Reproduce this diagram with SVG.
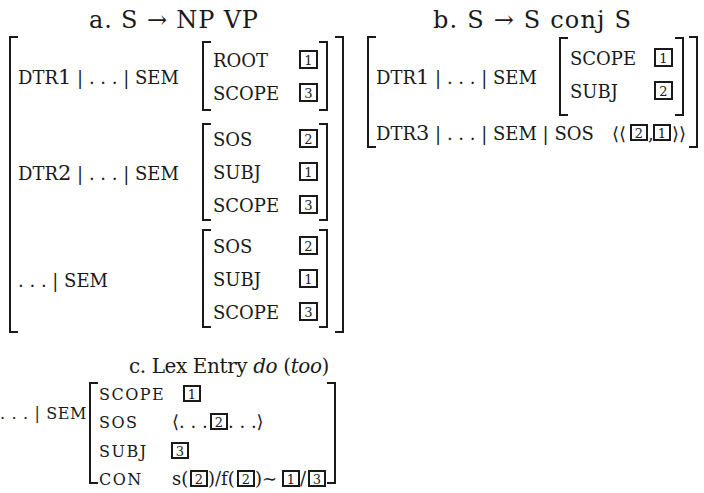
<svg xmlns="http://www.w3.org/2000/svg" xmlns:xlink="http://www.w3.org/1999/xlink" width="704" height="493" viewBox="0 0 704 493">
  <style>
    text { fill: #1a1a1a; font-family: "DejaVu Serif", "Liberation Serif", serif; }
    .title { font-size: 24px; }
    .title-c { font-size: 20px; letter-spacing: -0.4px; }
    .lbl { font-size: 18px; }
    .big { font-size: 21px; }
    .lblc { font-size: 16px; letter-spacing: 1.5px; }
    .val { font-size: 18px; }
    .num { font-size: 13px; text-anchor: middle; }
    .br { fill: none; stroke: #1a1a1a; stroke-width: 2; }
    .box { fill: #fff; stroke: #1a1a1a; stroke-width: 2; }
  </style>
  <defs>
    <!-- boxed tags, large (a, b) and small (c) -->
    <g id="t1"><rect class="box" x="0" y="0" width="17" height="17"/><text class="num" x="8.5" y="14">1</text></g>
    <g id="t2"><rect class="box" x="0" y="0" width="17" height="17"/><text class="num" x="8.5" y="14">2</text></g>
    <g id="t3"><rect class="box" x="0" y="0" width="17" height="17"/><text class="num" x="8.5" y="14">3</text></g>
    <g id="s1"><rect class="box" x="0" y="0" width="16" height="15"/><text class="num" x="8" y="13">1</text></g>
    <g id="s2"><rect class="box" x="0" y="0" width="16" height="15"/><text class="num" x="8" y="13">2</text></g>
    <g id="s3"><rect class="box" x="0" y="0" width="16" height="15"/><text class="num" x="8" y="13">3</text></g>
  </defs>

  <!-- (a) S -> NP VP -->
  <g id="rule-a">
    <text class="title" x="89" y="28" textLength="169">a. S → NP VP</text>
    <path class="br" d="M18,37 H10 V332 H18"/>
    <path class="br" d="M335,37 H343 V332 H335"/>

    <g id="a-dtr1">
      <text class="lbl" x="18" y="84">DTR<tspan class="big">1</tspan> | . . . | SEM</text>
      <path class="br" d="M211,42 H203 V110 H211"/>
      <path class="br" d="M319,42 H327 V110 H319"/>
      <text class="lbl" x="213" y="67">ROOT</text>
      <use xlink:href="#t1" x="300" y="51"/>
      <text class="lbl" x="213" y="100">SCOPE</text>
      <use xlink:href="#t3" x="300" y="84"/>
    </g>

    <g id="a-dtr2">
      <text class="lbl" x="18" y="180">DTR<tspan class="big">2</tspan> | . . . | SEM</text>
      <path class="br" d="M211,124 H203 V220 H211"/>
      <path class="br" d="M319,124 H327 V220 H319"/>
      <text class="lbl" x="213" y="146">SOS</text>
      <use xlink:href="#t2" x="300" y="130"/>
      <text class="lbl" x="213" y="179">SUBJ</text>
      <use xlink:href="#t1" x="300" y="163"/>
      <text class="lbl" x="213" y="212">SCOPE</text>
      <use xlink:href="#t3" x="300" y="196"/>
    </g>

    <g id="a-mother">
      <text class="lbl" x="18" y="287">. . . | SEM</text>
      <path class="br" d="M211,230 H203 V327 H211"/>
      <path class="br" d="M319,230 H327 V327 H319"/>
      <text class="lbl" x="213" y="253">SOS</text>
      <use xlink:href="#t2" x="300" y="237"/>
      <text class="lbl" x="213" y="286">SUBJ</text>
      <use xlink:href="#t1" x="300" y="270"/>
      <text class="lbl" x="213" y="319">SCOPE</text>
      <use xlink:href="#t3" x="300" y="303"/>
    </g>
  </g>

  <!-- (b) S -> S conj S -->
  <g id="rule-b">
    <text class="title" x="433" y="28" textLength="198">b. S → S conj S</text>
    <path class="br" d="M376,37 H368 V147 H376"/>
    <path class="br" d="M689,37 H697 V147 H689"/>

    <g id="b-dtr1">
      <text class="lbl" x="376" y="84">DTR<tspan class="big">1</tspan> | . . . | SEM</text>
      <path class="br" d="M568,38 H560 V115 H568"/>
      <path class="br" d="M675,38 H683 V115 H675"/>
      <text class="lbl" x="570" y="65">SCOPE</text>
      <use xlink:href="#t1" x="655" y="49"/>
      <text class="lbl" x="570" y="98">SUBJ</text>
      <use xlink:href="#t2" x="655" y="82"/>
    </g>

    <g id="b-dtr3">
      <text class="lbl" x="376" y="140">DTR<tspan class="big">3</tspan> | . . . | SEM | SOS</text>
      <text class="lbl" x="612" y="140">⟨⟨</text>
      <use xlink:href="#s2" x="631" y="125"/>
      <text class="lbl" x="648" y="140">,</text>
      <use xlink:href="#s1" x="654" y="125"/>
      <text class="lbl" x="672" y="140">⟩⟩</text>
    </g>
  </g>

  <!-- (c) lexical entry for "do (too)" -->
  <g id="entry-c">
    <text class="title-c" x="129" y="373">c. Lex Entry <tspan font-style="italic">do</tspan> (<tspan font-style="italic">too</tspan>)</text>
    <text class="lblc" x="0" y="419" textLength="88">. . . | SEM</text>
    <path class="br" d="M98,383 H90 V483 H98"/>
    <path class="br" d="M327,383 H335 V483 H327"/>

    <text class="lblc" x="99" y="400">SCOPE</text>
    <use xlink:href="#s1" x="184" y="386"/>

    <text class="lblc" x="99" y="428">SOS</text>
    <text class="val" x="172" y="428">⟨. . .</text>
    <use xlink:href="#s2" x="211" y="414"/>
    <text class="val" x="228" y="428">. . .⟩</text>

    <text class="lblc" x="99" y="457">SUBJ</text>
    <use xlink:href="#s3" x="172" y="443"/>

    <text class="lblc" x="99" y="485">CON</text>
    <text class="val" x="172" y="485">s(</text>
    <use xlink:href="#s2" x="191" y="471"/>
    <text class="val" x="208" y="485">)/f(</text>
    <use xlink:href="#s2" x="238" y="471"/>
    <text class="val" x="255" y="485">)∼</text>
    <use xlink:href="#s1" x="283" y="471"/>
    <text class="val" x="300" y="485">/</text>
    <use xlink:href="#s3" x="309" y="471"/>
  </g>
</svg>
